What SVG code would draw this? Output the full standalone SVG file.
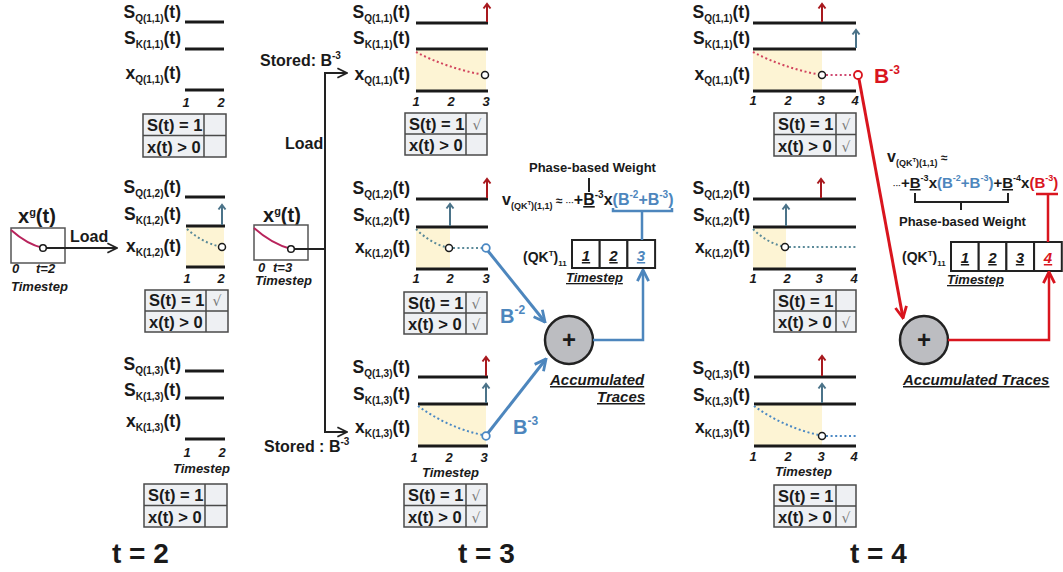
<svg xmlns="http://www.w3.org/2000/svg" width="1063" height="572" viewBox="0 0 1063 572">
<defs>
<style>
text{font-family:"Liberation Sans",Arial,sans-serif;font-weight:bold;fill:#1a1a1a}
.lbl{font-size:17.5px;text-anchor:end}
.sub{font-size:10px}
.tk{font-size:13px;font-style:italic;text-anchor:middle}
.ts{font-size:13px;font-style:italic}
.tbt{font-size:16.5px}
.chk{font-family:"DejaVu Sans",sans-serif;font-weight:normal;font-size:14px;fill:#777;text-anchor:middle}
.ln{stroke:#1a1a1a;stroke-width:3.2;fill:none}
.yel{fill:#fdf4d4}
.spR{stroke:#a8191e;stroke-width:2;fill:none}
.spB{stroke:#4b7389;stroke-width:2;fill:none}
.tb{fill:#eef0f3;stroke:#4a4a4a;stroke-width:1.5}
.tbl{stroke:#4a4a4a;stroke-width:1.5}
.dR{stroke:#d2455e;stroke-width:2;stroke-dasharray:2 2.6;fill:none}
.dP{stroke:#cf4a72;stroke-width:2;stroke-dasharray:2 2.6;fill:none}
.dT{stroke:#5b8a99;stroke-width:2;stroke-dasharray:2 2.6;fill:none}
.dB{stroke:#4a88c4;stroke-width:2;stroke-dasharray:2 2.6;fill:none}
.cK{fill:#fff;stroke:#1a1a1a;stroke-width:1.5}
.cB{fill:#fff;stroke:#4a88c4;stroke-width:1.8}
.cR{fill:#fff;stroke:#d9151e;stroke-width:1.8}
.box{fill:#fff;stroke:#555;stroke-width:1.5}
.crv{stroke:#b8245c;stroke-width:2;fill:none}
.blu{fill:#4d86bd}
.red{fill:#d9151e}
.big{font-size:28px}
.plus{fill:#bcbdc1;stroke:#222;stroke-width:2.5}
.cell{fill:#fff;stroke:#222;stroke-width:2}
.cn{font-size:15px;font-style:italic;text-anchor:middle;text-decoration:underline}
</style>
<marker id="chK" viewBox="0 0 10 10" refX="9" refY="5" markerWidth="12" markerHeight="12" markerUnits="userSpaceOnUse" orient="auto"><path d="M1,1 L9,5 L1,9" fill="none" stroke="#222" stroke-width="1.5"/></marker>
<marker id="chB" viewBox="0 0 10 10" refX="9" refY="5" markerWidth="14" markerHeight="14" markerUnits="userSpaceOnUse" orient="auto"><path d="M1,1 L9,5 L1,9" fill="none" stroke="#4d86bd" stroke-width="2"/></marker>
<marker id="chR" viewBox="0 0 10 10" refX="9" refY="5" markerWidth="14" markerHeight="14" markerUnits="userSpaceOnUse" orient="auto"><path d="M1,1 L9,5 L1,9" fill="none" stroke="#d9151e" stroke-width="2"/></marker>
</defs>
<rect width="1063" height="572" fill="#fff"/>

<!-- ============ t = 2 ============ -->
<g id="xg-t2">
<text x="18" y="223" font-size="20">x<tspan font-size="11" dy="-7">g</tspan><tspan dy="7">(t)</tspan></text>
<rect class="box" x="11" y="228" width="54" height="35"/>
<path class="crv" d="M11,230 C20,238 30,245 43,248"/>
<text class="ts" x="12" y="273">0</text>
<text class="ts" x="36" y="273">t=2</text>
<text class="ts" x="11" y="291">Timestep</text>
<text x="70" y="242" font-size="16">Load</text>
</g>

<g id="t2-n11">
<text class="lbl" x="181" y="18">S<tspan class="sub" dy="4">Q(1,1)</tspan><tspan dy="-4">(t)</tspan></text>
<text class="lbl" x="181" y="44">S<tspan class="sub" dy="4">K(1,1)</tspan><tspan dy="-4">(t)</tspan></text>
<text class="lbl" x="181" y="79">x<tspan class="sub" dy="4">Q(1,1)</tspan><tspan dy="-4">(t)</tspan></text>
<path class="ln" d="M185,22H224M185,49H224M185,90H224"/>
<text class="tk" x="186" y="107">1</text><text class="tk" x="221" y="107">2</text>
<rect class="tb" x="143" y="114" width="83" height="43"/><path class="tbl" d="M143,135.5H226M204,114V157"/>
<text class="tbt" x="147" y="131">S(t) = 1</text><text class="tbt" x="147" y="153">x(t) &gt; 0</text>
</g>

<g id="t2-n12">
<text class="lbl" x="181" y="193">S<tspan class="sub" dy="4">Q(1,2)</tspan><tspan dy="-4">(t)</tspan></text>
<text class="lbl" x="181" y="220">S<tspan class="sub" dy="4">K(1,2)</tspan><tspan dy="-4">(t)</tspan></text>
<text class="lbl" x="181" y="252">x<tspan class="sub" dy="4">K(1,2)</tspan><tspan dy="-4">(t)</tspan></text>
<rect class="yel" x="186" y="226" width="38" height="41"/>
<path class="ln" d="M185,197H225M186,226H225M186,267H225"/>
<path class="spB" d="M222,225V205M218.5,209.5L222,205L225.5,209.5"/>
<path class="dT" d="M187,229 C196,237 207,244 222,247"/>
<circle class="cK" cx="222" cy="247" r="3.5"/>
<text class="tk" x="187" y="283">1</text><text class="tk" x="221" y="283">2</text>
<rect class="tb" x="145" y="290" width="83" height="42"/><path class="tbl" d="M145,311H228M206,290V332"/>
<text class="tbt" x="149" y="306">S(t) = 1</text><text class="tbt" x="149" y="328">x(t) &gt; 0</text>
<text class="chk" x="217" y="306">√</text>
</g>

<g id="t2-n13">
<text class="lbl" x="181" y="370">S<tspan class="sub" dy="4">Q(1,3)</tspan><tspan dy="-4">(t)</tspan></text>
<text class="lbl" x="181" y="396">S<tspan class="sub" dy="4">K(1,3)</tspan><tspan dy="-4">(t)</tspan></text>
<text class="lbl" x="181" y="427">x<tspan class="sub" dy="4">K(1,3)</tspan><tspan dy="-4">(t)</tspan></text>
<path class="ln" d="M185,371H224M185,398H224M185,439H225"/>
<text class="tk" x="187" y="457">1</text><text class="tk" x="222" y="457">2</text>
<text class="ts" x="173" y="473">Timestep</text>
<rect class="tb" x="144" y="484" width="83" height="43"/><path class="tbl" d="M144,505.5H227M205,484V527"/>
<text class="tbt" x="148" y="501">S(t) = 1</text><text class="tbt" x="148" y="523">x(t) &gt; 0</text>
</g>
<text class="big" x="112" y="563">t = 2</text>

<!-- ============ t = 3 ============ -->
<g id="xg-t3">
<text x="263" y="222" font-size="20">x<tspan font-size="11" dy="-7">g</tspan><tspan dy="7">(t)</tspan></text>
<rect class="box" x="254" y="225" width="54" height="35"/>
<path class="crv" d="M254,228 C264,237 276,245 291,249"/>
<text class="ts" x="258" y="272">0</text>
<text class="ts" x="273" y="272">t=3</text>
<text class="ts" x="255" y="285">Timestep</text>
<text x="260" y="66" font-size="16" fill="#333">Stored: B<tspan font-size="10" dy="-7">-3</tspan></text>
<text x="285" y="149" font-size="16" fill="#333">Load</text>
<text x="264" y="452" font-size="16" fill="#333">Stored : B<tspan font-size="10" dy="-7">-3</tspan></text>
</g>

<g id="t3-n11">
<text class="lbl" x="410" y="18">S<tspan class="sub" dy="4">Q(1,1)</tspan><tspan dy="-4">(t)</tspan></text>
<text class="lbl" x="410" y="44">S<tspan class="sub" dy="4">K(1,1)</tspan><tspan dy="-4">(t)</tspan></text>
<text class="lbl" x="410" y="80">x<tspan class="sub" dy="4">Q(1,1)</tspan><tspan dy="-4">(t)</tspan></text>
<rect class="yel" x="416" y="49" width="70" height="42"/>
<path class="ln" d="M416,23H488M416,49H488M416,91H488"/>
<path class="spR" d="M487,22V4M483.5,8.5L487,4L490.5,8.5"/>
<path class="dR" d="M416,52 C435,62 460,71 485,75"/>
<circle class="cK" cx="485" cy="75" r="3.5"/>
<text class="tk" x="416" y="106">1</text><text class="tk" x="451" y="106">2</text><text class="tk" x="486" y="106">3</text>
<rect class="tb" x="405" y="113" width="82" height="42"/><path class="tbl" d="M405,134H487M466,113V155"/>
<text class="tbt" x="409" y="130">S(t) = 1</text><text class="tbt" x="409" y="151">x(t) &gt; 0</text>
<text class="chk" x="477" y="130">√</text>
</g>

<g id="t3-n12">
<text class="lbl" x="410" y="194">S<tspan class="sub" dy="4">Q(1,2)</tspan><tspan dy="-4">(t)</tspan></text>
<text class="lbl" x="410" y="221">S<tspan class="sub" dy="4">K(1,2)</tspan><tspan dy="-4">(t)</tspan></text>
<text class="lbl" x="410" y="253">x<tspan class="sub" dy="4">K(1,2)</tspan><tspan dy="-4">(t)</tspan></text>
<rect class="yel" x="416" y="227" width="34" height="42"/>
<path class="ln" d="M416,199H488M416,227H488M416,269H488"/>
<path class="spR" d="M487,198V179M483.5,183.5L487,179L490.5,183.5"/>
<path class="spB" d="M450,226V204M446.5,208.5L450,204L453.5,208.5"/>
<path class="dT" d="M416,229 C425,238 436,245 449,248"/>
<path class="dT" d="M453,248H482"/>
<circle class="cK" cx="449" cy="248" r="3.5"/>
<circle class="cB" cx="486" cy="248" r="3.8"/>
<text class="tk" x="416" y="283">1</text><text class="tk" x="450" y="283">2</text><text class="tk" x="486" y="283">3</text>
<rect class="tb" x="404" y="292" width="83" height="42"/><path class="tbl" d="M404,313H487M466,292V334"/>
<text class="tbt" x="408" y="309">S(t) = 1</text><text class="tbt" x="408" y="330">x(t) &gt; 0</text>
<text class="chk" x="476" y="309">√</text><text class="chk" x="476" y="330">√</text>
</g>

<g id="t3-n13">
<text class="lbl" x="410" y="373">S<tspan class="sub" dy="4">Q(1,3)</tspan><tspan dy="-4">(t)</tspan></text>
<text class="lbl" x="410" y="400">S<tspan class="sub" dy="4">K(1,3)</tspan><tspan dy="-4">(t)</tspan></text>
<text class="lbl" x="410" y="433">x<tspan class="sub" dy="4">K(1,3)</tspan><tspan dy="-4">(t)</tspan></text>
<rect class="yel" x="418" y="404" width="68" height="42"/>
<path class="ln" d="M418,377H488M418,404H488M418,446H488"/>
<path class="spR" d="M486,376V357M482.5,361.5L486,357L489.5,361.5"/>
<path class="spB" d="M486,403V384M482.5,388.5L486,384L489.5,388.5"/>
<path class="dB" d="M418,406 C436,419 458,430 483,435"/>
<circle class="cB" cx="486" cy="436" r="3.8"/>
<text class="tk" x="414" y="462">1</text><text class="tk" x="449" y="462">2</text><text class="tk" x="484" y="462">3</text>
<text class="ts" x="422" y="477">Timestep</text>
<rect class="tb" x="404" y="484" width="83" height="43"/><path class="tbl" d="M404,505.5H487M466,484V527"/>
<text class="tbt" x="408" y="501">S(t) = 1</text><text class="tbt" x="408" y="523">x(t) &gt; 0</text>
<text class="chk" x="476" y="501">√</text><text class="chk" x="476" y="523">√</text>
</g>
<text class="big" x="458" y="563">t = 3</text>

<g id="sum-t3">
<circle class="plus" cx="569" cy="340" r="24"/>
<text x="569" y="348" font-size="24" text-anchor="middle">+</text>
<text x="550" y="385" font-size="15" font-style="italic" text-decoration="underline">Accumulated </text>
<text x="597" y="402" font-size="15" font-style="italic" text-decoration="underline">Traces</text>
</g>

<g id="qk-t3">
<text x="523" y="262" font-size="14">(QK<tspan font-size="8" dy="-6">T</tspan><tspan dy="6">)</tspan><tspan font-size="8" dy="4">11</tspan></text>
<rect class="cell" x="572" y="240" width="27.7" height="28"/>
<rect class="cell" x="599.7" y="240" width="27.7" height="28"/>
<rect class="cell" x="627.4" y="240" width="27.7" height="28"/>
<text class="cn" x="586" y="261">1</text>
<text class="cn" x="613.5" y="261">2</text>
<text class="cn blu" x="641" y="261">3</text>
<text x="566" y="282" font-size="13" font-style="italic" text-decoration="underline">Timestep</text>
</g>

<g id="formula-t3">
<text x="529" y="172" font-size="13" fill="#222">Phase-based Weight</text>
<text x="502" y="205" font-size="16">v<tspan font-size="9" dy="4">(QK</tspan><tspan font-size="6" dy="-4">T</tspan><tspan font-size="9" dy="4">)(1,1)</tspan><tspan font-size="12" dy="-4"> ≈ </tspan><tspan font-size="8">···</tspan><tspan>+</tspan><tspan text-decoration="underline">B</tspan><tspan font-size="10" dy="-7">-3</tspan><tspan dy="7">x</tspan><tspan class="blu">(B</tspan><tspan class="blu" font-size="10" dy="-7">-2</tspan><tspan class="blu" dy="7">+B</tspan><tspan class="blu" font-size="10" dy="-7">-3</tspan><tspan class="blu" dy="7">)</tspan></text>
</g>

<!-- ============ t = 4 ============ -->
<g id="t4-n11">
<text class="lbl" x="750" y="18">S<tspan class="sub" dy="4">Q(1,1)</tspan><tspan dy="-4">(t)</tspan></text>
<text class="lbl" x="750" y="44">S<tspan class="sub" dy="4">K(1,1)</tspan><tspan dy="-4">(t)</tspan></text>
<text class="lbl" x="750" y="80">x<tspan class="sub" dy="4">Q(1,1)</tspan><tspan dy="-4">(t)</tspan></text>
<rect class="yel" x="753" y="49" width="69" height="42"/>
<path class="ln" d="M753,23H856M753,49H856M753,91H856"/>
<path class="spR" d="M822,22V4M818.5,8.5L822,4L825.5,8.5"/>
<path class="spB" d="M856,48V30M852.5,34.5L856,30L859.5,34.5"/>
<path class="dR" d="M753,52 C772,62 797,71 822,75"/>
<path class="dP" d="M826,75H854"/>
<circle class="cK" cx="822" cy="75" r="3.5"/>
<circle class="cR" cx="858" cy="75" r="4"/>
<text class="tk" x="753" y="105">1</text><text class="tk" x="788" y="105">2</text><text class="tk" x="821" y="105">3</text><text class="tk" x="855" y="105">4</text>
<rect class="tb" x="774" y="113" width="82" height="43"/><path class="tbl" d="M774,134.5H856M836,113V156"/>
<text class="tbt" x="778" y="130">S(t) = 1</text><text class="tbt" x="778" y="152">x(t) &gt; 0</text>
<text class="chk" x="846" y="130">√</text><text class="chk" x="846" y="152">√</text>
</g>

<g id="t4-n12">
<text class="lbl" x="750" y="194">S<tspan class="sub" dy="4">Q(1,2)</tspan><tspan dy="-4">(t)</tspan></text>
<text class="lbl" x="750" y="221">S<tspan class="sub" dy="4">K(1,2)</tspan><tspan dy="-4">(t)</tspan></text>
<text class="lbl" x="750" y="253">x<tspan class="sub" dy="4">K(1,2)</tspan><tspan dy="-4">(t)</tspan></text>
<rect class="yel" x="753" y="227" width="33" height="42"/>
<path class="ln" d="M753,199H856M753,227H856M753,269H856"/>
<path class="spR" d="M821,198V179M817.5,183.5L821,179L824.5,183.5"/>
<path class="spB" d="M786,226V205M782.5,209.5L786,205L789.5,209.5"/>
<path class="dT" d="M753,229 C762,238 772,244 785,247"/>
<path class="dT" d="M789,247H856"/>
<circle class="cK" cx="785" cy="247" r="3.5"/>
<text class="tk" x="753" y="283">1</text><text class="tk" x="787" y="283">2</text><text class="tk" x="819" y="283">3</text><text class="tk" x="854" y="283">4</text>
<rect class="tb" x="774" y="290" width="82" height="42"/><path class="tbl" d="M774,311H856M836,290V332"/>
<text class="tbt" x="778" y="307">S(t) = 1</text><text class="tbt" x="778" y="328">x(t) &gt; 0</text>
<text class="chk" x="846" y="328">√</text>
</g>

<g id="t4-n13">
<text class="lbl" x="750" y="374">S<tspan class="sub" dy="4">Q(1,3)</tspan><tspan dy="-4">(t)</tspan></text>
<text class="lbl" x="750" y="401">S<tspan class="sub" dy="4">K(1,3)</tspan><tspan dy="-4">(t)</tspan></text>
<text class="lbl" x="750" y="433">x<tspan class="sub" dy="4">K(1,3)</tspan><tspan dy="-4">(t)</tspan></text>
<rect class="yel" x="754" y="404" width="68" height="42"/>
<path class="ln" d="M754,377H856M754,404H856M754,446H856"/>
<path class="spR" d="M822,376V356M818.5,360.5L822,356L825.5,360.5"/>
<path class="spB" d="M822,403V384M818.5,388.5L822,384L825.5,388.5"/>
<path class="dB" d="M754,406 C772,419 795,430 819,435"/>
<path class="dB" d="M826,436H856"/>
<circle class="cK" cx="822" cy="436" r="3.5"/>
<text class="tk" x="753" y="461">1</text><text class="tk" x="788" y="461">2</text><text class="tk" x="821" y="461">3</text><text class="tk" x="854" y="461">4</text>
<text class="ts" x="775" y="476">Timestep</text>
<rect class="tb" x="774" y="485" width="82" height="42"/><path class="tbl" d="M774,506H856M836,485V527"/>
<text class="tbt" x="778" y="502">S(t) = 1</text><text class="tbt" x="778" y="523">x(t) &gt; 0</text>
<text class="chk" x="846" y="523">√</text>
</g>
<text class="big" x="850" y="563">t = 4</text>

<g id="sum-t4">
<circle class="plus" cx="924" cy="340" r="24"/>
<text x="924" y="348" font-size="24" text-anchor="middle">+</text>
<text x="903" y="385" font-size="15" font-style="italic" text-decoration="underline">Accumulated Traces</text>
</g>

<g id="qk-t4">
<text x="902" y="262" font-size="14">(QK<tspan font-size="8" dy="-6">T</tspan><tspan dy="6">)</tspan><tspan font-size="8" dy="4">11</tspan></text>
<rect class="cell" x="951" y="242" width="27.7" height="29"/>
<rect class="cell" x="978.7" y="242" width="27.7" height="29"/>
<rect class="cell" x="1006.4" y="242" width="27.7" height="29"/>
<rect class="cell" x="1034.1" y="242" width="27.7" height="29"/>
<text class="cn" x="965" y="263">1</text>
<text class="cn" x="992.5" y="263">2</text>
<text class="cn" x="1020" y="263">3</text>
<text class="cn red" x="1048" y="263">4</text>
<text x="947" y="284" font-size="13" font-style="italic" text-decoration="underline">Timestep</text>
</g>

<g id="formula-t4">
<text x="887" y="162" font-size="16">v<tspan font-size="9" dy="4">(QK</tspan><tspan font-size="6" dy="-4">T</tspan><tspan font-size="9" dy="4">)(1,1)</tspan><tspan font-size="12" dy="-4"> ≈</tspan></text>
<text x="893" y="188" font-size="15"><tspan font-size="8">···</tspan>+<tspan text-decoration="underline">B</tspan><tspan font-size="9" dy="-7">-3</tspan><tspan dy="7">x</tspan><tspan class="blu">(B</tspan><tspan class="blu" font-size="9" dy="-7">-2</tspan><tspan class="blu" dy="7">+B</tspan><tspan class="blu" font-size="9" dy="-7">-3</tspan><tspan class="blu" dy="7">)</tspan>+<tspan text-decoration="underline">B</tspan><tspan font-size="9" dy="-7">-4</tspan><tspan dy="7">x</tspan><tspan class="red">(B</tspan><tspan class="red" font-size="9" dy="-7">-3</tspan><tspan class="red" dy="7">)</tspan></text>
<path d="M915,193V202H1008V193M961,202V210" fill="none" stroke="#222" stroke-width="2"/>
<text x="899" y="226" font-size="13" fill="#222">Phase-based Weight</text>
<text x="874" y="83" font-size="21" class="red">B<tspan font-size="12" dy="-9">-3</tspan></text>
</g>

<g id="connectors">
<path d="M46,248H117" stroke="#222" stroke-width="2" fill="none" marker-end="url(#chK)"/>
<circle class="cK" cx="43" cy="248" r="3.3"/>
<path d="M294,249H325" stroke="#222" stroke-width="2" fill="none"/>
<circle class="cK" cx="291" cy="249" r="3.3"/>
<path d="M325,249V73H347" stroke="#222" stroke-width="2" fill="none" marker-end="url(#chK)"/>
<path d="M325,249V432H347" stroke="#222" stroke-width="2" fill="none" marker-end="url(#chK)"/>
<path d="M488,251L545,322" stroke="#4d86bd" stroke-width="3" fill="none" marker-end="url(#chB)"/>
<path d="M488,433L546,359" stroke="#4d86bd" stroke-width="3" fill="none" marker-end="url(#chB)"/>
<path d="M593,340H643V270" stroke="#4d86bd" stroke-width="2.5" fill="none" marker-end="url(#chB)"/>
<path d="M613,208V211H672V208M642,211V240" stroke="#4d86bd" stroke-width="2.5" fill="none"/>
<path d="M589,178V192" stroke="#222" stroke-width="2" fill="none"/>
<text x="500" y="323" font-size="20" class="blu">B<tspan font-size="12" dy="-9">-2</tspan></text>
<text x="513" y="434" font-size="20" class="blu">B<tspan font-size="12" dy="-9">-3</tspan></text>
<path d="M859,79L903,318" stroke="#d9151e" stroke-width="3" fill="none" marker-end="url(#chR)"/>
<path d="M948,340H1049V272" stroke="#d9151e" stroke-width="2.5" fill="none" marker-end="url(#chR)"/>
<path d="M1036,194H1058M1048,194V242" stroke="#d9151e" stroke-width="2.5" fill="none"/>
</g>
</svg>
